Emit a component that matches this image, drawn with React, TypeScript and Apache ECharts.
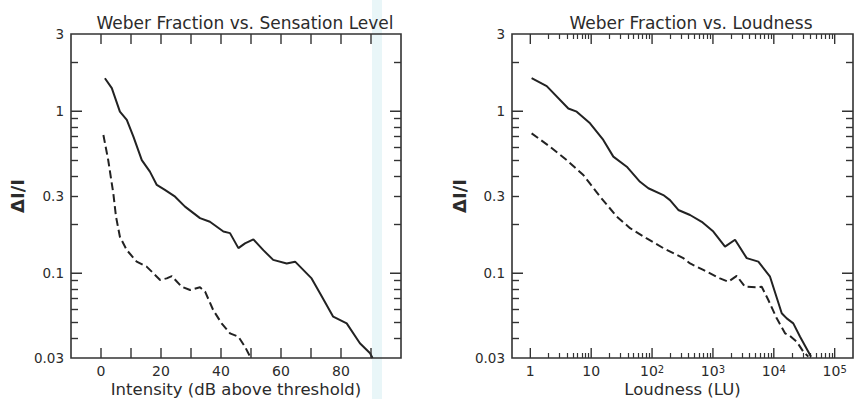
import React, { useEffect, useRef } from "react";
import * as echarts from "echarts";

// ---------- data ----------
const leftSolidDb = [1.3, 3.6, 6.3, 8.6, 10.8, 13.6, 16.3, 18.6, 21.3, 24.7, 28, 33, 36.3, 40.8, 43, 45.8, 48, 50.8, 54.1, 57.4, 61.9, 64.7, 70.2, 73, 77.4, 81.9, 86.3, 89.7, 90.5];
const leftSolidVal = [1.6, 1.39, 0.995, 0.884, 0.697, 0.5, 0.424, 0.351, 0.327, 0.297, 0.258, 0.219, 0.208, 0.181, 0.177, 0.143, 0.153, 0.162, 0.139, 0.121, 0.115, 0.118, 0.093, 0.0753, 0.054, 0.0491, 0.037, 0.0321, 0.03];
const leftDashDb = [0.8, 2.4, 4.1, 5, 6.3, 8.6, 11.9, 15.2, 19.7, 21.9, 23.6, 26.9, 29.7, 33, 34.7, 37.4, 40.2, 43, 45.8, 48, 49.7];
const leftDashVal = [0.714, 0.5, 0.312, 0.224, 0.168, 0.139, 0.118, 0.11, 0.091, 0.093, 0.096, 0.0826, 0.0789, 0.082, 0.077, 0.0593, 0.0491, 0.0426, 0.0406, 0.0352, 0.0306];

const rightSolidLU = [1.05, 1.86, 4.21, 5.78, 9.57, 15.8, 23.1, 38.4, 63.4, 86.9, 153, 197, 270, 421, 655, 1015, 1580, 2307, 3590, 5570, 8670, 13490, 16300, 20900, 27000, 36900, 40900];
const rightSolidVal = [1.6, 1.43, 1.04, 0.995, 0.843, 0.665, 0.525, 0.455, 0.367, 0.335, 0.304, 0.283, 0.246, 0.229, 0.208, 0.181, 0.146, 0.161, 0.124, 0.118, 0.0953, 0.0567, 0.0527, 0.0491, 0.0406, 0.0328, 0.0305];
const rightDashLU = [1.05, 2.11, 3.96, 7.43, 14, 26.3, 43.5, 81.7, 153, 326, 421, 695, 1306, 1790, 2460, 3370, 5240, 6330, 8130, 11170, 15300, 18500, 23800, 30600, 36900];
const rightDashVal = [0.731, 0.604, 0.5, 0.404, 0.297, 0.224, 0.19, 0.164, 0.143, 0.124, 0.115, 0.105, 0.093, 0.0887, 0.0963, 0.0826, 0.082, 0.0826, 0.0684, 0.0527, 0.0426, 0.041, 0.0378, 0.0328, 0.0306];

const yMin = 0.03;
const yMax = 3;
const yLabelValues = [0.03, 0.1, 0.3, 1, 3];
const yLabelTexts = ["0.03", "0.1", "0.3", "1", "3"];
const yMajorTicks = [0.1, 1];
const yMinorTicks = [0.04, 0.05, 0.06, 0.07, 0.08, 0.09, 0.2, 0.3, 0.4, 0.5, 0.6, 0.7, 0.8, 0.9, 2];

const dbMin = -10;
const dbMax = 100;
const dbTicks = [0, 10, 20, 30, 40, 50, 60, 70, 80, 90];
const dbLabels = [0, 20, 40, 60, 80];

const luMin = 0.5;
const luMax = 200000;
const luMajor = [1, 10, 100, 1000, 10000, 100000];
const luMajorTexts = ["1", "10", "10{s|2}", "10{s|3}", "10{s|4}", "10{s|5}"];
const luMinorMult = [2, 3, 4, 5, 6, 7, 8, 9];
const luMinorDecades = [1, 10, 100, 1000, 10000];

const titles = ["Weber Fraction vs. Sensation Level", "Weber Fraction vs. Loudness"];
const xNames = ["Intensity (dB above threshold)", "Loudness (LU)"];
const yName = "ΔI/I";

const lg = (v: number) => Math.log10(v);
const FONT = "DejaVu Sans";
const INK = "#2b2b2b";
const LINE = "#333";

// layout (pixels)
const GRID_TOP = 34;
const GRID_H = 324;
const LEFT_GRID = { left: 71, width: 330 };
const RIGHT_GRID = { left: 512, width: 341 };
const X_TICK_PX = 10;
const Y_TICK_PX = 11;

function nearestLabel(v: number, values: number[], texts: string[]) {
  let best = 0;
  let bd = Infinity;
  values.forEach((val, i) => {
    const d = Math.abs(lg(val) - v);
    if (d < bd) {
      bd = d;
      best = i;
    }
  });
  return texts[best];
}

// Major tick segments as a broken line series (segments separated by gaps)
function tickSegments(
  xTicks: number[],
  yTicks: number[],
  x0: number,
  x1: number,
  y0: number,
  y1: number,
  gridW: number
) {
  const dy = (X_TICK_PX * (y1 - y0)) / GRID_H;
  const dx = (Y_TICK_PX * (x1 - x0)) / gridW;
  const out: any[] = [];
  xTicks.forEach((v) => {
    out.push([v, y0], [v, y0 + dy], [v, "-"]);
    out.push([v, y1], [v, y1 - dy], [v, "-"]);
  });
  yTicks.forEach((v) => {
    out.push([x0, v], [x0 + dx, v], ["-", v]);
    out.push([x1, v], [x1 - dx, v], ["-", v]);
  });
  return out;
}

export default function App() {
  const ref = useRef<HTMLDivElement>(null);

  useEffect(() => {
    if (!ref.current) return;
    const chart = echarts.init(ref.current, undefined, { renderer: "svg" });

    const gridBase = {
      top: GRID_TOP,
      height: GRID_H,
      outerBoundsMode: "none",
      containLabel: false,
      show: true,
      borderColor: LINE,
      borderWidth: 1.6,
      backgroundColor: "transparent",
    };
    const grids = [
      { ...gridBase, ...LEFT_GRID },
      { ...gridBase, ...RIGHT_GRID },
    ];

    const noLine = { show: false, onZero: false };
    const tickStyle = { color: LINE, width: 1.4 };
    const minorStyle = { color: LINE, width: 1.2 };

    const yAxes: any[] = [];
    [0, 1].forEach((g) => {
      const base = {
        type: "value",
        gridIndex: g,
        min: lg(yMin),
        max: lg(yMax),
        splitLine: { show: false },
        axisLine: noLine,
      };
      yAxes.push({
        ...base,
        position: "left",
        axisTick: { show: false },
        axisLabel: {
          show: true,
          customValues: yLabelValues.map(lg),
          formatter: (v: number) => nearestLabel(v, yLabelValues, yLabelTexts),
          fontFamily: FONT,
          fontSize: 13.5,
          color: INK,
          margin: 7,
        },
        name: yName,
        nameLocation: "middle",
        nameRotate: 90,
        nameGap: g === 0 ? 45 : 44,
        nameMoveOverlap: false,
        nameTextStyle: { fontFamily: FONT, fontSize: 18, color: INK, fontWeight: "bold" },
      });
      yAxes.push({
        ...base,
        position: "left",
        axisTick: { show: true, inside: true, length: 7, customValues: yMinorTicks.map(lg), lineStyle: tickStyle },
        axisLabel: { show: false },
      });
      yAxes.push({
        ...base,
        position: "right",
        axisTick: { show: true, inside: true, length: 7, customValues: yMinorTicks.map(lg), lineStyle: tickStyle },
        axisLabel: { show: false },
      });
    });

    const luMinor: number[] = [];
    luMinorDecades.forEach((d) => luMinorMult.forEach((m) => luMinor.push(lg(d * m))));

    const xAxes: any[] = [];
    xAxes.push({
      type: "value",
      gridIndex: 0,
      min: dbMin,
      max: dbMax,
      position: "bottom",
      axisLine: noLine,
      axisTick: { show: false },
      axisLabel: { show: true, customValues: dbLabels, fontFamily: FONT, fontSize: 14, color: INK, margin: 6 },
      splitLine: { show: false },
      name: xNames[0],
      nameLocation: "middle",
      nameGap: 23,
      nameMoveOverlap: false,
      nameTextStyle: { fontFamily: FONT, fontSize: 16.5, color: INK },
    });
    xAxes.push({
      type: "value",
      gridIndex: 1,
      min: lg(luMin),
      max: lg(luMax),
      position: "bottom",
      axisLine: noLine,
      axisTick: { show: false },
      axisLabel: {
        show: true,
        customValues: luMajor.map(lg),
        formatter: (v: number) => nearestLabel(v, luMajor, luMajorTexts),
        fontFamily: FONT,
        fontSize: 14,
        color: INK,
        margin: 6,
        rich: { s: { fontFamily: FONT, fontSize: 10, color: INK, verticalAlign: "top", lineHeight: 10 } },
      },
      splitLine: { show: false },
      name: xNames[1],
      nameLocation: "middle",
      nameGap: 23,
      nameMoveOverlap: false,
      nameTextStyle: { fontFamily: FONT, fontSize: 16.5, color: INK },
    });
    ["bottom", "top"].forEach((pos) =>
      xAxes.push({
        type: "value",
        gridIndex: 1,
        min: lg(luMin),
        max: lg(luMax),
        position: pos,
        axisLine: noLine,
        axisTick: { show: true, inside: true, length: 5, customValues: luMinor, lineStyle: minorStyle },
        axisLabel: { show: false },
        splitLine: { show: false },
      })
    );

    const pairs = (xs: number[], ys: number[], fx: (v: number) => number) =>
      xs.map((x, i) => [fx(x), lg(ys[i])]);

    const solidStyle = { color: "#222", width: 2 };
    const dashStyle = { color: "#222", width: 2, type: [8, 4] };
    const majorTickStyle = { color: LINE, width: 1.4 };

    const series: any[] = [
      { name: "left solid", type: "line", xAxisIndex: 0, yAxisIndex: 0, data: pairs(leftSolidDb, leftSolidVal, (v) => v), showSymbol: false, lineStyle: solidStyle },
      { name: "left dashed", type: "line", xAxisIndex: 0, yAxisIndex: 0, data: pairs(leftDashDb, leftDashVal, (v) => v), showSymbol: false, lineStyle: dashStyle },
      { name: "right solid", type: "line", xAxisIndex: 1, yAxisIndex: 3, data: pairs(rightSolidLU, rightSolidVal, lg), showSymbol: false, lineStyle: solidStyle },
      { name: "right dashed", type: "line", xAxisIndex: 1, yAxisIndex: 3, data: pairs(rightDashLU, rightDashVal, lg), showSymbol: false, lineStyle: dashStyle },
      {
        name: "left major ticks",
        type: "line",
        xAxisIndex: 0,
        yAxisIndex: 0,
        showSymbol: false,
        connectNulls: false,
        silent: true,
        lineStyle: majorTickStyle,
        data: tickSegments(dbTicks, yMajorTicks.map(lg), dbMin, dbMax, lg(yMin), lg(yMax), LEFT_GRID.width),
      },
      {
        name: "right major ticks",
        type: "line",
        xAxisIndex: 1,
        yAxisIndex: 3,
        showSymbol: false,
        connectNulls: false,
        silent: true,
        lineStyle: majorTickStyle,
        data: tickSegments(luMajor.map(lg), yMajorTicks.map(lg), lg(luMin), lg(luMax), lg(yMin), lg(yMax), RIGHT_GRID.width),
      },
    ];

    chart.setOption({
      animation: false,
      backgroundColor: "#fff",
      title: [
        { text: titles[0], left: 240, top: 9, textAlign: "center", textStyle: { fontFamily: FONT, fontSize: 17, fontWeight: "normal", color: INK } },
        { text: titles[1], left: 686, top: 9, textAlign: "center", textStyle: { fontFamily: FONT, fontSize: 17, fontWeight: "normal", color: INK } },
      ],
      graphic: [
        { type: "rect", left: 372, top: 0, shape: { width: 10, height: 399 }, style: { fill: "#e9f6f8" }, z: -10, silent: true },
      ],
      grid: grids,
      xAxis: xAxes,
      yAxis: yAxes,
      series,
    });

    return () => chart.dispose();
  }, []);

  return (
    <div
      ref={ref}
      style={{ position: "fixed", left: 0, top: 0, width: 854, height: 399, background: "#fff" }}
    />
  );
}
